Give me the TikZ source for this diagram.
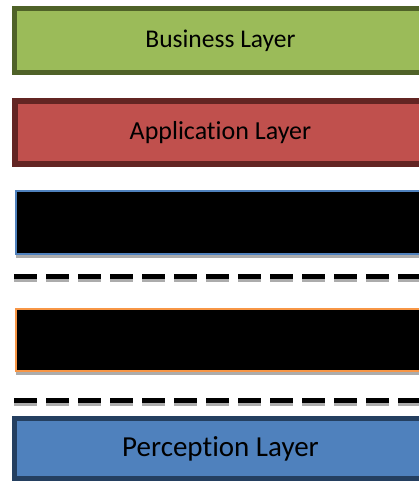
\documentclass[tikz,border=0pt]{standalone}
\usepackage{fontspec}
\setmainfont{Carlito}[RawFeature={-liga;-dlig;-clig}]
\usepackage{tikz}
\usetikzlibrary{shadows}
\definecolor{bizfill}{HTML}{9BBB59}
\definecolor{bizline}{HTML}{4F6228}
\definecolor{appfill}{HTML}{C0504D}
\definecolor{appline}{HTML}{632523}
\definecolor{perfill}{HTML}{4F81BD}
\definecolor{perline}{HTML}{243F60}
\definecolor{netline}{HTML}{4F81BD}
\definecolor{midline}{HTML}{F79646}
\tikzset{%
  layer/.style={rectangle,draw,line width=5pt,minimum width=412pt,inner sep=0pt,
    drop shadow={shadow xshift=0pt,shadow yshift=-1.5pt,fill=gray!35,opacity=1}},
  hidden/.style={rectangle,draw,line width=2pt,fill=black,minimum width=412pt,inner sep=0pt,
    drop shadow={shadow xshift=0pt,shadow yshift=-3.5pt,fill=gray!65,opacity=1}},
  sep/.style={line width=5pt,dash pattern=on 23pt off 9pt},
  sepshade/.style={sep,draw=gray!65}
}
\begin{document}
\begin{tikzpicture}[x=1pt,y=-1pt]
	\useasboundingbox (0,0) rectangle (419,482);
	\clip (0,0) rectangle (419,482);
	% layers, top to bottom
	\node[layer,draw=bizline,fill=bizfill,minimum height=64pt,font=\fontsize{25.5}{30}\selectfont]
		(business) at (220.5,40.5) {Business Layer};
	\node[layer,draw=appline,fill=appfill,line width=6pt,minimum height=63pt,font=\fontsize{26}{30}\selectfont]
		(application) at (220.5,132.5) {Application Layer};
	\node[hidden,draw=netline,minimum height=63pt] (network) at (222,222.5) {};
	\node[hidden,draw=midline,minimum height=62pt] (middleware) at (222,340) {};
	\node[layer,draw=perline,fill=perfill,minimum height=60pt,font=\fontsize{29}{34}\selectfont]
		(perception) at (220.5,448.5) {Perception Layer};
	% dashed separators
	\coordinate (s1a) at (14,276.5);
	\coordinate (s1b) at (440,276.5);
	\coordinate (s2a) at (14,400.5);
	\coordinate (s2b) at (440,400.5);
	\draw[sepshade] ([yshift=-3pt]s1a) -- ([yshift=-3pt]s1b);
	\draw[sep] (s1a) -- (s1b);
	\draw[sepshade] ([yshift=-3pt]s2a) -- ([yshift=-3pt]s2b);
	\draw[sep] (s2a) -- (s2b);
\end{tikzpicture}
\end{document}
